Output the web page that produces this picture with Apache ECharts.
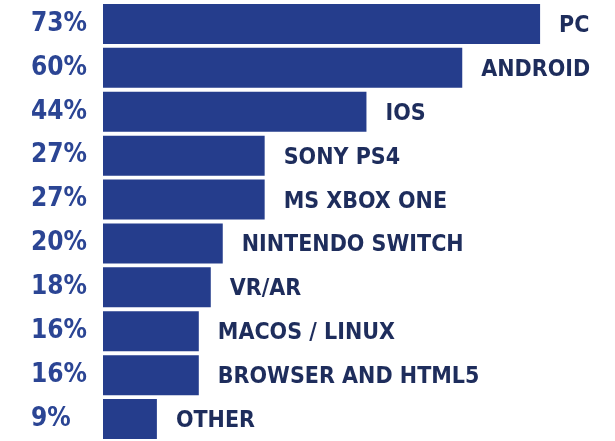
<!DOCTYPE html>
<html>
<head>
<meta charset="utf-8">
<script src="https://cdn.jsdelivr.net/npm/echarts@6/dist/echarts.min.js"></script>
<style>html,body{margin:0;padding:0;background:#fff}#c{width:615px;height:441px}</style>
</head>
<body>
<div id="c"></div>
<script>
const categories = ['PC','ANDROID','IOS','SONY PS4','MS XBOX ONE','NINTENDO SWITCH','VR/AR','MACOS / LINUX','BROWSER AND HTML5','OTHER'];
const values = [73,60,44,27,27,20,18,16,16,9];
const FONT = '"DejaVu Sans Condensed", "Liberation Sans Narrow", sans-serif';
const chart = echarts.init(document.getElementById('c'), null, {renderer:'canvas'});
chart.setOption({
  animation:false,
  backgroundColor:'#ffffff',
  grid:{left:103, top:2, width:479, height:446, containLabel:false},
  xAxis:{type:'value', min:0, max:80, show:false},
  yAxis:{type:'category', data:categories, inverse:true,
    axisLine:{show:false}, axisTick:{show:false}, splitLine:{show:false},
    axisLabel:{margin:72, align:'left', color:'#2b4594', fontFamily:FONT, fontWeight:'bold', fontSize:26,
      padding:[4,0,0,0],
      formatter:function(v, i){ return values[i] + '%'; }}
  },
  series:[{type:'bar', data:values, barWidth:40, itemStyle:{color:'#253d8c'},
    label:{show:true, position:'right', distance:19, offset:[0,2], formatter:'{b}', color:'#1e2d5c', fontFamily:FONT, fontWeight:'bold', fontSize:23}
  }]
});
</script>
</body>
</html>
